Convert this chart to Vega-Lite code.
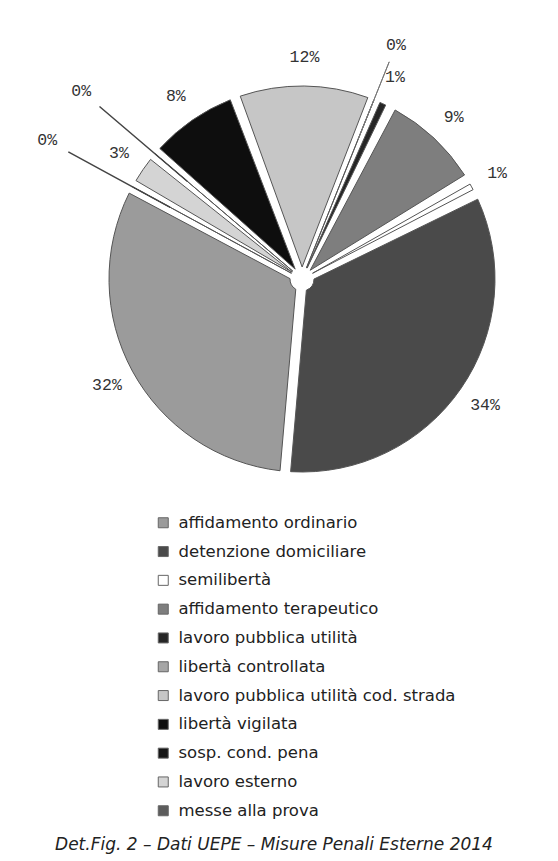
{
  "$schema": "https://vega.github.io/schema/vega-lite/v6.json",
  "width": 578,
  "height": 546,
  "autosize": {"type": "none"},
  "padding": {"left": 13, "top": 6, "right": 0, "bottom": 309},
  "background": "white",
  "title": {
    "text": "Det.Fig. 2 – Dati UEPE – Misure Penali Esterne 2014",
    "orient": "bottom",
    "anchor": "middle",
    "frame": "group",
    "offset": 17,
    "dx": -28,
    "font": "DejaVu Sans",
    "fontSize": 17,
    "fontStyle": "italic",
    "fontWeight": "normal",
    "color": "#222222"
  },
  "data": {
    "values": [
      {"cat": "messe alla prova", "value": 0.3, "label": "0%", "ord": 1},
      {"cat": "lavoro esterno", "value": 3.0, "label": "3%", "ord": 2},
      {"cat": "sosp. cond. pena", "value": 0.3, "label": "0%", "ord": 3},
      {"cat": "libertà vigilata", "value": 8.0, "label": "8%", "ord": 4},
      {"cat": "lavoro pubblica utilità cod. strada", "value": 11.6, "label": "12%", "ord": 5},
      {"cat": "libertà controllata", "value": 0.2, "label": "0%", "ord": 6},
      {"cat": "lavoro pubblica utilità", "value": 1.4, "label": "1%", "ord": 7},
      {"cat": "affidamento terapeutico", "value": 8.8, "label": "9%", "ord": 8},
      {"cat": "semilibertà", "value": 1.4, "label": "1%", "ord": 9},
      {"cat": "detenzione domiciliare", "value": 33.6, "label": "34%", "ord": 10},
      {"cat": "affidamento ordinario", "value": 31.4, "label": "32%", "ord": 11}
    ]
  },
  "encoding": {
    "theta": {"field": "value", "type": "quantitative", "stack": true, "scale": {"range": [-1.0821, 5.2011]}},
    "order": {"field": "ord", "type": "quantitative", "sort": "ascending"},
    "detail": {"field": "cat", "type": "nominal"}
  },
  "layer": [
    {
      "mark": {"type": "arc", "outerRadius": 193, "innerRadius": 12, "padAngle": 0.055, "stroke": "#555555", "strokeWidth": 1},
      "encoding": {
        "color": {
          "field": "cat",
          "type": "nominal",
          "scale": {
            "domain": ["affidamento ordinario", "detenzione domiciliare", "semilibertà", "affidamento terapeutico", "lavoro pubblica utilità", "libertà controllata", "lavoro pubblica utilità cod. strada", "libertà vigilata", "sosp. cond. pena", "lavoro esterno", "messe alla prova"],
            "range": ["#9b9b9b", "#4a4a4a", "#ffffff", "#7e7e7e", "#262626", "#a6a6a6", "#c6c6c6", "#0e0e0e", "#151515", "#d4d4d4", "#5c5c5c"]
          },
          "legend": {
            "title": null,
            "orient": "none",
            "legendX": 142,
            "legendY": 508.5,
            "padding": 0,
            "symbolType": "square",
            "symbolSize": 100,
            "symbolStrokeColor": "#666666",
            "symbolStrokeWidth": 1,
            "labelFont": "DejaVu Sans",
            "labelFontSize": 16.5,
            "labelColor": "#222222",
            "labelOffset": 7,
            "labelLimit": 400,
            "rowPadding": 11.8
          }
        }
      }
    },
    {
      "mark": {"type": "arc", "outerRadius": 266, "innerRadius": 150, "padAngle": 0.055, "fillOpacity": 0, "strokeWidth": 1.5},
      "encoding": {
        "stroke": {"condition": {"test": "datum.cat === 'messe alla prova' || datum.cat === 'sosp. cond. pena'", "value": "#444444"}, "value": "transparent"}
      }
    },
    {
      "mark": {"type": "arc", "outerRadius": 234, "innerRadius": 150, "padAngle": 0.055, "fillOpacity": 0, "strokeWidth": 1},
      "encoding": {
        "stroke": {"condition": {"test": "datum.cat === 'libertà controllata'", "value": "#777777"}, "value": "transparent"}
      }
    },
    {
      "mark": {"type": "text", "radius": 222, "font": "Liberation Mono", "fontSize": 16.5, "color": "#333333", "align": "center", "baseline": "middle"},
      "encoding": {
        "text": {"condition": {"test": "datum.value >= 0.5", "field": "label"}, "value": ""}
      }
    },
    {
      "mark": {"type": "text", "radius": 290, "font": "Liberation Mono", "fontSize": 16.5, "color": "#333333", "align": "center", "baseline": "middle"},
      "encoding": {
        "text": {"condition": {"test": "datum.cat === 'messe alla prova' || datum.cat === 'sosp. cond. pena'", "field": "label"}, "value": ""}
      }
    },
    {
      "mark": {"type": "text", "radius": 252, "font": "Liberation Mono", "fontSize": 16.5, "color": "#333333", "align": "center", "baseline": "middle"},
      "encoding": {
        "text": {"condition": {"test": "datum.cat === 'libertà controllata'", "field": "label"}, "value": ""}
      }
    }
  ]
}
